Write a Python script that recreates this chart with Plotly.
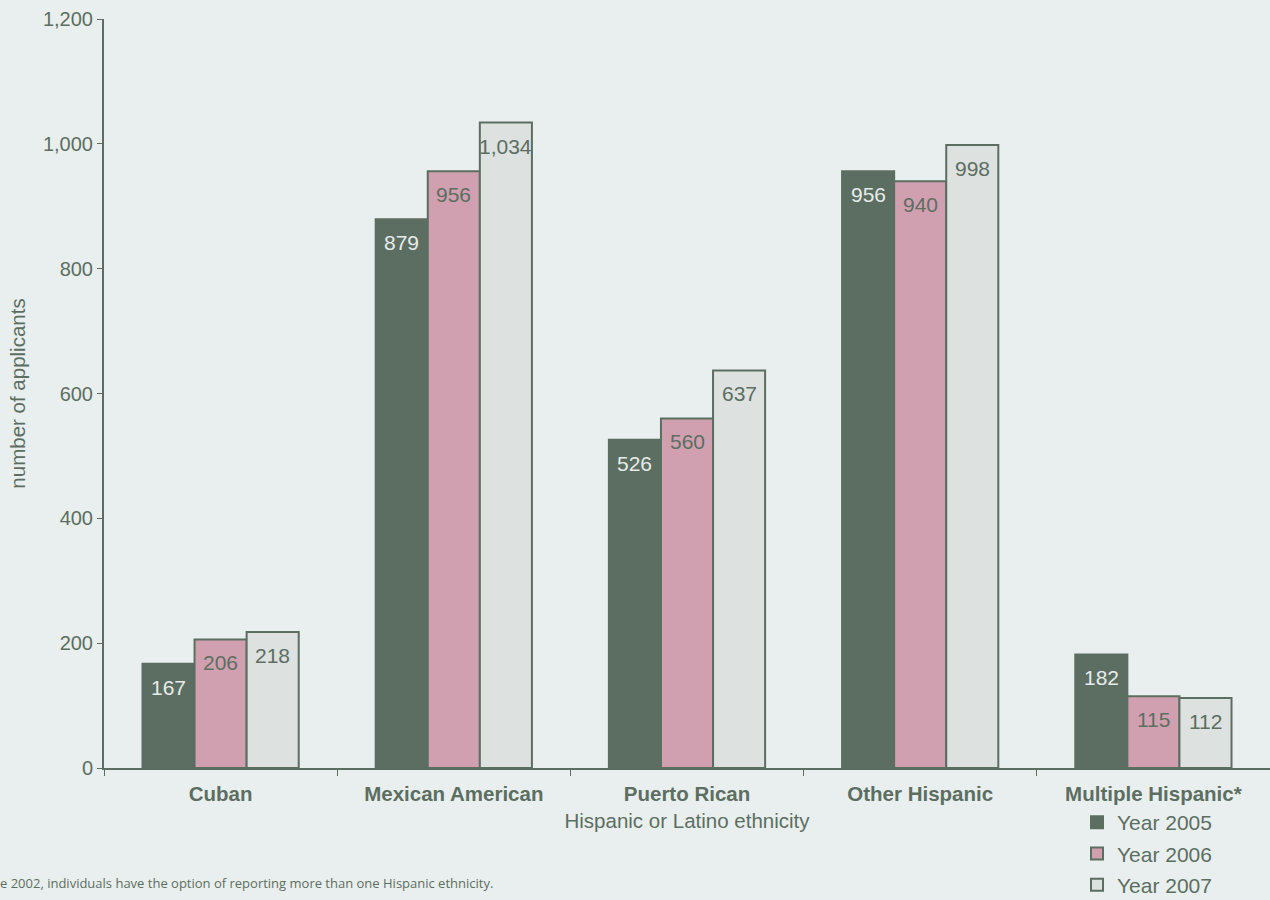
import plotly.graph_objects as go

categories = ["Cuban", "Mexican American", "Puerto Rican", "Other Hispanic", "Multiple Hispanic*"]
years = ["Year 2005", "Year 2006", "Year 2007"]
y2005 = [167, 879, 526, 956, 182]
y2006 = [206, 956, 560, 940, 115]
y2007 = [218, 1034, 637, 998, 112]
ytick_vals = [0, 200, 400, 600, 800, 1000, 1200]

C_TXT = "#5c6e62"
BG = "#e9eeee"
fills = ["#5c6e62", "#d1a0b0", "#dde1e0"]
label_colors = ["#e6ecea", "#5c6e62", "#5c6e62"]
FONT = "Liberation Sans, Arial"

W, H = 1270, 900
ML, MR, MT, MB = 104, 0, 19, 132
plot_w = W - ML - MR
plot_h = H - MT - MB
bargap = 0.33
bar_px = plot_w / len(categories) * (1 - bargap) / 3

fig = go.Figure()
series = [y2005, y2006, y2007]
for i, (name, vals) in enumerate(zip(years, series)):
    fig.add_trace(go.Bar(
        x=categories, y=vals, name=name,
        marker=dict(color=fills[i], line=dict(color=C_TXT, width=2)),
        legendgroup=name,
    ))
    for c, v in zip(categories, vals):
        fig.add_annotation(
            x=c, y=v, xref="x", yref="y", text=f"{v:,}",
            showarrow=False, xanchor="center", yanchor="top",
            xshift=(i - 1) * bar_px, yshift=-10,
            font=dict(size=21, color=label_colors[i], family=FONT),
        )

fig.update_layout(
    width=W, height=H,
    paper_bgcolor=BG, plot_bgcolor=BG,
    margin=dict(l=ML, r=MR, t=MT, b=MB, autoexpand=False),
    barmode="group", bargap=bargap, bargroupgap=0,
    font=dict(family=FONT, color=C_TXT, size=20),
    xaxis=dict(
        showline=True, linecolor=C_TXT, linewidth=2, automargin=False,
        ticks="outside", tickson="boundaries", ticklen=6, tickcolor=C_TXT, tickwidth=1,
        ticklabelstandoff=6,
        tickfont=dict(size=20.5, color=C_TXT),
        tickvals=categories, ticktext=[f"<b>{c}</b>" for c in categories],
        title=dict(text="Hispanic or Latino ethnicity", font=dict(size=20.5, color=C_TXT), standoff=10),
        showgrid=False, zeroline=False,
    ),
    yaxis=dict(
        range=[0, 1200], tickvals=ytick_vals, tickformat=",", automargin=False,
        showline=True, linecolor=C_TXT, linewidth=2,
        ticks="outside", ticklen=5, tickcolor=C_TXT, tickwidth=1,
        tickfont=dict(size=20, color=C_TXT),
        title=dict(text="number of applicants", font=dict(size=20.5, color=C_TXT), standoff=12),
        showgrid=False, zeroline=False,
    ),
    legend=dict(
        x=(1077 - ML) / plot_w, y=-(802 - (H - MB)) / plot_h, xanchor="left", yanchor="top",
        orientation="v", tracegroupgap=1,
        font=dict(size=21, color=C_TXT),
        bgcolor="rgba(0,0,0,0)", itemwidth=30,
    ),
    showlegend=True,
)

fig.add_annotation(
    text="e 2002, individuals have the option of reporting more than one Hispanic ethnicity.",
    xref="paper", yref="paper", x=-(ML + 2) / plot_w, y=-(883 - (H - MB)) / plot_h,
    xanchor="left", yanchor="middle", showarrow=False,
    font=dict(family="Open Sans, Noto Sans", size=13, color=C_TXT),
)

fig.write_html(
    "out.html",
    config={"displayModeBar": False},
    post_script="document.body.style.margin='0';document.body.style.overflow='hidden';",
)
